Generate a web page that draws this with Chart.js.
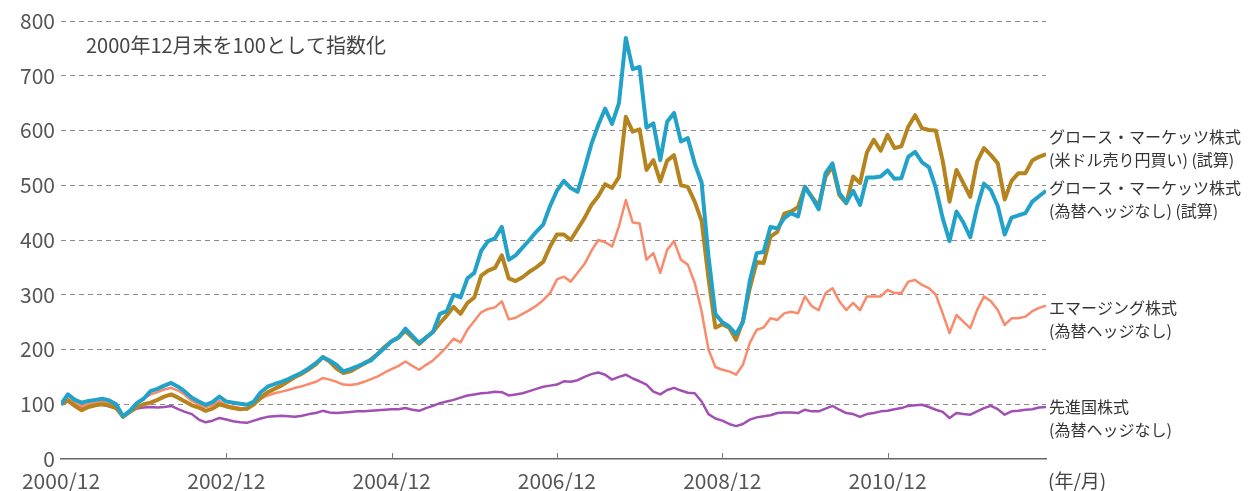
<!DOCTYPE html>
<html>
<head>
<meta charset="utf-8">
<script src="https://cdn.jsdelivr.net/npm/chart.js@4.4.1/dist/chart.umd.min.js"></script>
<style>
  body { margin: 0; background: #fff; }
  #wrap { width: 1251px; height: 491px; position: relative; }
</style>
</head>
<body>
<div id="wrap"><canvas id="indexChart"></canvas></div>
<script>
// monthly index values, 2000/12 = 100 (one row per year, starting each December)
var growthHedgedYen = [
  100,107,97,89,95,98,100,98,93,77,86,95,
  100,103,108,114,118,112,105,98,94,88,92,100,
  96,93,91,92,100,112,122,128,134,142,150,156,
  164,173,186,178,165,157,160,167,174,182,192,205,
  215,222,234,222,210,222,232,248,262,278,265,285,
  295,335,344,349,372,330,325,332,342,350,360,388,
  410,410,400,420,440,464,480,502,495,515,625,598,
  602,528,546,507,545,555,500,497,470,435,330,240,
  246,240,218,252,312,360,358,406,415,448,452,460,
  497,479,462,516,534,482,467,516,504,560,583,563,
  592,568,571,607,628,604,601,600,545,470,528,504,
  479,543,568,555,540,474,508,522,522,545,552,557
];
var growthNoHedge = [
  100,118,108,103,106,108,110,107,100,78,88,102,
  110,124,128,134,139,132,123,112,105,99,104,114,
  105,103,101,99,105,122,132,137,141,146,152,158,
  166,175,186,180,172,160,164,169,175,180,192,203,
  215,222,238,225,212,222,232,265,270,300,295,330,
  340,380,398,403,424,364,372,386,400,415,428,462,
  490,508,495,488,530,575,610,640,612,650,769,712,
  716,605,613,546,616,632,580,586,540,505,370,265,
  250,242,228,250,325,376,378,424,421,440,449,443,
  497,478,456,522,540,486,468,490,464,514,514,516,
  527,512,513,552,561,542,533,495,440,398,452,432,
  405,460,503,491,462,410,441,445,449,470,480,490
];
var emergingNoHedge = [
  100,110,103,96,100,103,104,102,96,78,87,100,
  110,118,122,127,130,125,117,106,100,95,98,106,
  98,96,93,90,100,110,116,120,123,126,130,133,
  137,141,148,145,141,136,135,137,141,146,151,158,
  164,170,178,170,163,172,180,192,205,220,213,236,
  252,268,274,277,288,255,258,265,272,280,290,303,
  328,333,324,340,356,380,400,396,388,425,473,432,
  430,364,376,340,382,398,364,355,322,270,200,168,
  163,160,154,172,212,236,240,257,254,266,269,266,
  297,279,272,303,312,288,272,285,272,297,297,297,
  309,303,303,324,327,318,312,300,266,230,263,251,
  239,272,297,288,272,245,257,257,260,270,276,280
];
var developedNoHedge = [
  100,105,98,94,98,100,99,96,92,80,86,92,
  94,95,94,95,97,91,86,82,72,67,70,75,
  72,69,67,66,70,74,77,78,79,78,77,79,
  82,84,88,85,84,85,86,87,87,88,89,90,
  91,91,93,90,88,93,97,102,105,108,112,116,
  118,120,121,123,122,116,118,120,124,128,132,134,
  136,142,141,144,150,155,158,154,145,150,154,147,
  142,136,123,118,126,130,125,121,120,105,82,74,
  70,64,60,64,72,76,78,80,84,85,85,84,
  90,87,87,92,97,90,84,82,77,82,84,87,
  88,91,93,97,98,99,95,90,86,75,84,82,
  81,87,93,97,91,81,87,88,90,91,94,95
];

var tickMonths = [0, 24, 48, 72, 96, 120];
var tickLabels = ['2000/12', '2002/12', '2004/12', '2006/12', '2008/12', '2010/12'];
var yTicks     = [0, 100, 200, 300, 400, 500, 600, 700, 800];

var seriesNames = [
  ['グロース・マーケッツ株式', '(米ドル売り円買い) (試算)'],
  ['グロース・マーケッツ株式', '(為替ヘッジなし) (試算)'],
  ['エマージング株式', '(為替ヘッジなし)'],
  ['先進国株式', '(為替ヘッジなし)']
];
// where each right-hand label sits, in index units
var labelAt = [588, 495, 276, 95];

var colors = ['#b5841e', '#22a2c9', '#f98b6c', '#a24fb3'];
var widths = [4, 4, 2.5, 2.5];
var order  = [1, 0, 2, 3];

function toPoints(arr) {
  return arr.map(function(v, i) { return { x: i, y: v }; });
}

var labelPlugin = {
  id: 'labels',
  afterDraw: function(chart) {
    var ctx = chart.ctx, area = chart.chartArea;
    var xs = chart.scales.x, ys = chart.scales.y;
    ctx.save();

    // little tick marks on the x axis
    ctx.strokeStyle = '#777';
    ctx.lineWidth = 1;
    tickMonths.forEach(function(m) {
      if (m === 0) return;
      var px = Math.round(xs.getPixelForValue(m)) + 0.5;
      ctx.beginPath();
      ctx.moveTo(px, area.bottom);
      ctx.lineTo(px, area.bottom - 6);
      ctx.stroke();
    });

    ctx.fillStyle = '#444';
    ctx.textBaseline = 'middle';
    ctx.textAlign = 'left';

    ctx.font = '20px "Noto Sans CJK JP"';
    ctx.fillText('2000年12月末を100として指数化', 86, 45);

    ctx.font = '19px "Noto Sans CJK JP"';
    ctx.fillText('(年/月)', area.right + 2, 481);

    ctx.fillStyle = '#333';
    ctx.font = '16px "Noto Sans CJK JP"';
    seriesNames.forEach(function(lines, i) {
      var py = ys.getPixelForValue(labelAt[i]);
      lines.forEach(function(t, j) {
        ctx.fillText(t, area.right + 3, py + j * 23);
      });
    });
    ctx.restore();
  }
};

var series = [growthHedgedYen, growthNoHedge, emergingNoHedge, developedNoHedge];

new Chart(document.getElementById('indexChart').getContext('2d'), {
  type: 'line',
  data: {
    datasets: series.map(function(s, i) {
      return {
        data: toPoints(s),
        borderColor: colors[i],
        borderWidth: widths[i],
        pointRadius: 0,
        tension: 0,
        borderJoinStyle: 'round',
        fill: false,
        order: order[i]
      };
    })
  },
  options: {
    responsive: true,
    maintainAspectRatio: false,
    animation: false,
    layout: { padding: { left: 0, right: 205, top: 21, bottom: 0 } },
    plugins: { legend: { display: false }, tooltip: { enabled: false } },
    scales: {
      x: {
        type: 'linear',
        min: 0,
        max: 143,
        afterBuildTicks: function(scale) {
          scale.ticks = tickMonths.map(function(v) { return { value: v }; });
        },
        afterFit: function(scale) { scale.height = 32; },
        grid: { display: false, drawTicks: false, tickLength: 0 },
        border: { display: true, color: '#666', width: 1.5, dash: [2, 1] },
        ticks: {
          padding: 9,
          maxRotation: 0,
          autoSkip: false,
          color: '#555',
          font: { family: '"Noto Sans CJK JP"', size: 21 },
          callback: function(v) {
            var k = tickMonths.indexOf(v);
            return k >= 0 ? tickLabels[k] : '';
          }
        }
      },
      y: {
        min: 0,
        max: 800,
        afterBuildTicks: function(scale) {
          scale.ticks = yTicks.map(function(v) { return { value: v }; });
        },
        afterFit: function(scale) { scale.width = 61; },
        border: { display: false, dash: [5, 4] },
        grid: {
          drawTicks: false,
          lineWidth: 1,
          color: function(c) { return c.tick && c.tick.value === 0 ? 'rgba(0,0,0,0)' : '#8a8a8a'; }
        },
        ticks: {
          padding: 6,
          color: '#555',
          font: { family: '"Noto Sans CJK JP"', size: 21 }
        }
      }
    }
  },
  plugins: [labelPlugin]
});
</script>
</body>
</html>
